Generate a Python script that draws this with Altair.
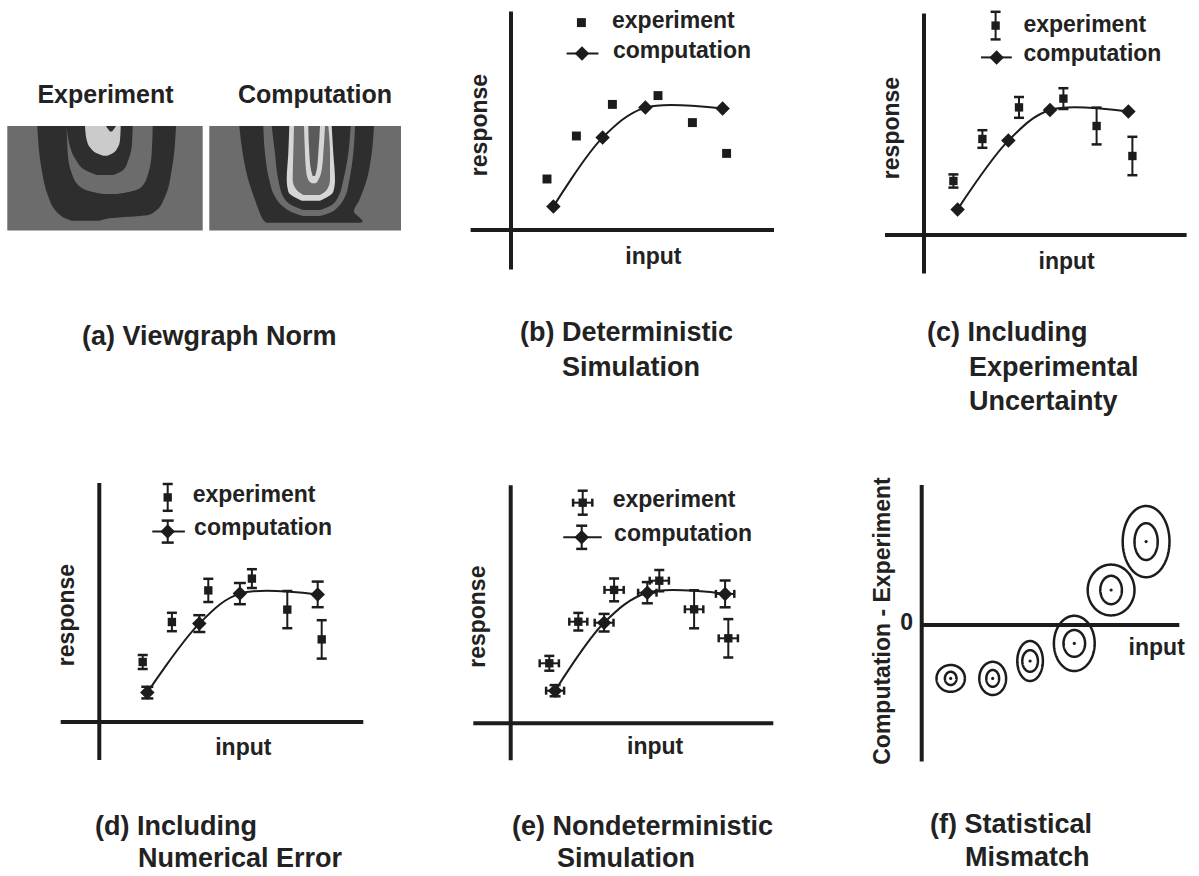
import altair as alt
import pandas as pd

# ---------------- values ----------------
# (b) Deterministic simulation
B_COMP_X = [2.12, 4.58, 6.72, 10.58]
B_COMP_Y = [1.17, 4.62, 6.12, 6.07]
B_EXP_X = [1.80, 3.27, 5.07, 7.35, 9.07, 10.78]
B_EXP_Y = [2.55, 4.70, 6.28, 6.72, 5.37, 3.83]
# (c) Including experimental uncertainty
C_COMP_X = [1.68, 4.22, 6.30, 10.22]
C_COMP_Y = [1.28, 4.72, 6.25, 6.17]
C_EXP_X = [1.47, 2.92, 4.75, 6.97, 8.63, 10.42]
C_EXP_Y = [2.70, 4.80, 6.38, 6.82, 5.45, 3.95]
C_EXP_ERR = [0.33, 0.44, 0.52, 0.52, 0.92, 0.96]
# (d) Including numerical error
D_COMP_X = [2.40, 5.00, 7.03, 10.92]
D_COMP_Y = [1.47, 4.92, 6.42, 6.38]
D_COMP_ERR = [0.29, 0.42, 0.53, 0.64]
D_EXP_X = [2.17, 3.63, 5.45, 7.63, 9.40, 11.12]
D_EXP_Y = [3.00, 5.00, 6.58, 7.17, 5.62, 4.13]
D_EXP_ERR = [0.35, 0.46, 0.58, 0.47, 0.93, 0.96]
# (e) Nondeterministic simulation
E_COMP_X = [2.22, 4.67, 6.83, 10.72]
E_COMP_Y = [1.63, 5.03, 6.53, 6.47]
E_COMP_YERR = [0.28, 0.44, 0.53, 0.67]
E_COMP_XERR = [0.45, 0.47, 0.46, 0.46]
E_EXP_X = [1.93, 3.38, 5.17, 7.43, 9.17, 10.88]
E_EXP_Y = [3.00, 5.08, 6.67, 7.13, 5.70, 4.25]
E_EXP_YERR = [0.37, 0.44, 0.57, 0.53, 0.95, 0.96]
E_EXP_XERR = [0.48, 0.45, 0.48, 0.48, 0.46, 0.48]
# (f) Statistical mismatch (computation - experiment)
F_X = [1.45, 3.55, 5.42, 7.63, 9.47, 11.22]
F_Y = [-2.67, -2.67, -1.80, -0.92, 1.75, 4.17]
F_OUT_RX = [0.71, 0.67, 0.64, 1.02, 1.17, 1.17]
F_OUT_RY = [0.67, 0.83, 1.00, 1.38, 1.27, 1.78]
F_IN_RX = [0.29, 0.32, 0.39, 0.54, 0.54, 0.58]
F_IN_RY = [0.33, 0.42, 0.54, 0.67, 0.71, 0.92]

# (a) viewgraph images: contour bands, rows of (y, left, right)
EXP_FRAME = [7.3, 202.7, 126.0, 230.5]
COMP_FRAME = [209.3, 401.0, 126.0, 230.5]
EXP_OUTER_Y = [126, 170, 196.7, 210, 215, 218.3, 220.7]
EXP_OUTER_L = [37.3, 41.7, 48.3, 55, 60, 65, 71.7]
EXP_OUTER_R = [176, 171.7, 165, 156.7, 148.3, 110, 100]
EXP_BAND_Y = [126, 153.3, 173.3, 186.7, 191.7, 194]
EXP_BAND_L = [66.7, 67.7, 71.7, 80, 91.7, 103.3]
EXP_BAND_R = [152.7, 151.7, 148.3, 141.7, 130, 116.7]
EXP_INNER_Y = [126, 146.7, 160, 170, 175]
EXP_INNER_L = [66.7, 70, 76, 85, 96.7]
EXP_INNER_R = [132.7, 131.7, 128.3, 123.3, 113.3]
EXP_LIGHT_Y = [126, 140, 148.3, 153.3, 155.7]
EXP_LIGHT_L = [85, 86.7, 90.7, 96.7, 103.3]
EXP_LIGHT_R = [120.7, 120, 117.3, 112.7, 107.3]
EXP_BLOB_Y = [126, 129, 131.5]
EXP_BLOB_L = [106, 108, 110]
EXP_BLOB_R = [116, 114, 112]

CMP_OUTER_Y = [126, 153.3, 180, 200, 211.7, 217.3, 221.7, 222.7]
CMP_OUTER_L = [239.3, 242.7, 248.3, 255, 259.3, 261.7, 265, 266.7]
CMP_OUTER_R = [374, 371.7, 366.7, 359.3, 354, 359.3, 362.7, 360]
CMP_BAND_Y = [126, 153.3, 180, 196.7, 206.7, 212.7, 216]
CMP_BAND_L = [263.3, 265, 269.3, 275, 283.3, 293.3, 303.3]
CMP_BAND_R = [355, 353.3, 349.3, 345, 338.3, 330, 320]
CMP_DARK_Y = [126, 153.3, 180, 196.7, 206, 210]
CMP_DARK_L = [271.7, 275, 278.3, 283.3, 293.3, 303.3]
CMP_DARK_R = [350.7, 348.3, 343.3, 338.3, 330, 320]
CMP_RING_Y = [126, 153.3, 180, 191.7, 198.3, 200.7]
CMP_RING_L = [289.3, 288.3, 286.7, 288.3, 296.7, 301.7]
CMP_RING_R = [331.7, 333.3, 335, 333.3, 325, 320]
CMP_GAP_Y = [126, 153.3, 180, 190, 195]
CMP_GAP_L = [294, 293.3, 292.7, 296.7, 303.3]
CMP_GAP_R = [328.3, 330, 330, 326.7, 320]
CMP_CORE_Y = [126, 153.3, 170, 180, 183.3]
CMP_CORE_L = [304, 305, 306, 308.3, 311.7]
CMP_CORE_R = [325, 323.3, 321.7, 318.3, 316]
CMP_CTR_Y = [126, 153.3, 170, 176]
CMP_CTR_L = [308.3, 309.3, 311, 312.7]
CMP_CTR_R = [320, 318.3, 316.7, 315]

# ---------------- layout / style ----------------
U = 20.0
COLS = [(0, 403), (403, 397), (800, 399)]
ROWS = [(0, 438), (438, 438)]
INK = "#1c1c1c"
TXT = "#222222"
FONT = "Liberation Sans, Arial, Helvetica, sans-serif"
DARK = "#2e2e2e"
GRAY = "#6c6c6c"
LIGHT = "#cbcbcb"
LIGHT2 = "#d6d6d6"


class Panel:
    def __init__(self, col, row, ox, oy, pixel=False):
        cx0, cw = COLS[col]
        ry0, rh = ROWS[row]
        self.w, self.h = cw, rh
        self.ox, self.oy = ox, oy
        if pixel:
            self.xs = alt.Scale(domain=[cx0, cx0 + cw], nice=False, zero=False)
            self.ys = alt.Scale(domain=[ry0 + rh, ry0], nice=False, zero=False)
        else:
            self.xs = alt.Scale(domain=[(cx0 - ox) / U, (cx0 + cw - ox) / U], nice=False, zero=False)
            self.ys = alt.Scale(domain=[(oy - ry0 - rh) / U, (oy - ry0) / U], nice=False, zero=False)

    def X(self, f):
        return alt.X(f, scale=self.xs, axis=None)

    def Y(self, f):
        return alt.Y(f, scale=self.ys, axis=None)

    def g(self, gx, gy):
        return ((gx - self.ox) / U, (self.oy - gy) / U)


def text_layer(p, rows, size, align="left", baseline="middle", angle=None):
    df = pd.DataFrame(rows, columns=["x", "y", "t"])
    kw = dict(align=align, baseline=baseline, fontSize=size, fontWeight="bold", font=FONT, color=TXT)
    if angle:
        kw["angle"] = angle
    return alt.Chart(df).mark_text(**kw).encode(x=p.X("x:Q"), y=p.Y("y:Q"), text="t:N")


def axis_lines(p, xext, yext):
    df = pd.DataFrame({"x": [xext[0], 0], "x2": [xext[1], 0], "y": [0, yext[0]], "y2": [0, yext[1]]})
    return alt.Chart(df).mark_rule(strokeWidth=4, color=INK).encode(
        x=p.X("x:Q"), x2="x2:Q", y=p.Y("y:Q"), y2="y2:Q")


def curve(p, xv, yv):
    df = pd.DataFrame({"x": xv, "y": yv})
    return alt.Chart(df).mark_line(interpolate="catmull-rom", color=INK, strokeWidth=2).encode(
        x=p.X("x:Q"), y=p.Y("y:Q"), order="x:Q")


def seg(p, x, x2, y, y2, w=2):
    df = pd.DataFrame({"x": [x], "x2": [x2], "y": [y], "y2": [y2]})
    return alt.Chart(df).mark_rule(strokeWidth=w, color=INK).encode(
        x=p.X("x:Q"), x2="x2:Q", y=p.Y("y:Q"), y2="y2:Q")


def diamonds(p, xv, yv, size=210):
    df = pd.DataFrame({"x": xv, "y": yv})
    return alt.Chart(df).mark_point(shape="diamond", filled=True, size=size, color=INK, opacity=1).encode(
        x=p.X("x:Q"), y=p.Y("y:Q"))


def squares(p, xv, yv, size=80):
    df = pd.DataFrame({"x": xv, "y": yv})
    return alt.Chart(df).mark_square(size=size, color=INK, opacity=1).encode(x=p.X("x:Q"), y=p.Y("y:Q"))


def yerr(p, xv, yv, ev, cap=10):
    df = pd.DataFrame({"x": xv, "y": yv, "e": ev})
    base = alt.Chart(df).transform_calculate(lo="datum.y - datum.e", hi="datum.y + datum.e")
    rule = base.mark_rule(color=INK, strokeWidth=2).encode(x=p.X("x:Q"), y=p.Y("lo:Q"), y2="hi:Q")
    top = base.mark_tick(orient="horizontal", size=cap, thickness=2.5, color=INK, opacity=1).encode(
        x=p.X("x:Q"), y=p.Y("hi:Q"))
    bot = base.mark_tick(orient="horizontal", size=cap, thickness=2.5, color=INK, opacity=1).encode(
        x=p.X("x:Q"), y=p.Y("lo:Q"))
    return [rule, top, bot]


def xerr(p, xv, yv, ev, cap=8):
    df = pd.DataFrame({"x": xv, "y": yv, "e": ev})
    base = alt.Chart(df).transform_calculate(lo="datum.x - datum.e", hi="datum.x + datum.e")
    rule = base.mark_rule(color=INK, strokeWidth=2).encode(x=p.X("lo:Q"), x2="hi:Q", y=p.Y("y:Q"))
    left = base.mark_tick(orient="vertical", size=cap, thickness=2.5, color=INK, opacity=1).encode(
        x=p.X("lo:Q"), y=p.Y("y:Q"))
    right = base.mark_tick(orient="vertical", size=cap, thickness=2.5, color=INK, opacity=1).encode(
        x=p.X("hi:Q"), y=p.Y("y:Q"))
    return [rule, left, right]


def titles(p, lines, size=27):
    rows = []
    for gx, gy, t in lines:
        x, y = p.g(gx, gy)
        rows.append((x, y, t))
    return text_layer(p, rows, size, align="left", baseline="alphabetic")


# ---------------- panel (a) ----------------
pa = Panel(0, 0, 0, 0, pixel=True)


def band(p, ys, ls, rs, color):
    df = pd.DataFrame({"y": ys, "L": ls, "R": rs})
    return alt.Chart(df).mark_area(orient="horizontal", interpolate="monotone", color=color, opacity=1).encode(
        y=p.Y("y:Q"), x=p.X("L:Q"), x2="R:Q")


frames = pd.DataFrame([EXP_FRAME, COMP_FRAME], columns=["x", "x2", "y", "y2"])
a_layers = [
    alt.Chart(frames).mark_rect(color=GRAY).encode(x=pa.X("x:Q"), x2="x2:Q", y=pa.Y("y:Q"), y2="y2:Q"),
    band(pa, EXP_OUTER_Y, EXP_OUTER_L, EXP_OUTER_R, DARK),
    band(pa, EXP_BAND_Y, EXP_BAND_L, EXP_BAND_R, GRAY),
    band(pa, EXP_INNER_Y, EXP_INNER_L, EXP_INNER_R, DARK),
    band(pa, EXP_LIGHT_Y, EXP_LIGHT_L, EXP_LIGHT_R, LIGHT),
    band(pa, EXP_BLOB_Y, EXP_BLOB_L, EXP_BLOB_R, DARK),
    band(pa, CMP_OUTER_Y, CMP_OUTER_L, CMP_OUTER_R, DARK),
    band(pa, CMP_BAND_Y, CMP_BAND_L, CMP_BAND_R, GRAY),
    band(pa, CMP_DARK_Y, CMP_DARK_L, CMP_DARK_R, DARK),
    band(pa, CMP_RING_Y, CMP_RING_L, CMP_RING_R, LIGHT2),
    band(pa, CMP_GAP_Y, CMP_GAP_L, CMP_GAP_R, GRAY),
    band(pa, CMP_CORE_Y, CMP_CORE_L, CMP_CORE_R, LIGHT2),
    band(pa, CMP_CTR_Y, CMP_CTR_L, CMP_CTR_R, "#5a5a5a"),
    text_layer(pa, [(105.5, 103, "Experiment"), (315, 103, "Computation")], 25, align="center", baseline="alphabetic"),
    text_layer(pa, [(82, 345, "(a) Viewgraph Norm")], 27, align="left", baseline="alphabetic"),
]
chart_a = alt.layer(*a_layers).properties(width=pa.w, height=pa.h)

# ---------------- panel (b) ----------------
pb = Panel(1, 0, 511, 230)
b_layers = [
    axis_lines(pb, (-2.02, 13.15), (-1.97, 10.92)),
    curve(pb, B_COMP_X, B_COMP_Y),
    diamonds(pb, B_COMP_X, B_COMP_Y),
    squares(pb, B_EXP_X, B_EXP_Y),
    squares(pb, [3.52], [10.37]),
    seg(pb, 2.78, 4.37, 8.83, 8.83),
    diamonds(pb, [3.55], [8.83]),
    text_layer(pb, [(5.05, 10.45, "experiment"), (5.1, 8.95, "computation")], 23),
    text_layer(pb, [(7.12, -1.33, "input")], 23, align="center"),
    text_layer(pb, [(-1.55, 5.25, "response")], 23, align="center", angle=270),
    titles(pb, [(520, 341, "(b) Deterministic"), (562, 376, "Simulation")]),
]
chart_b = alt.layer(*b_layers).properties(width=pb.w, height=pb.h)

# ---------------- panel (c) ----------------
pc = Panel(2, 0, 924, 235)
c_layers = [
    axis_lines(pc, (-1.95, 13.13), (-1.92, 11.08)),
    curve(pc, C_COMP_X, C_COMP_Y),
    diamonds(pc, C_COMP_X, C_COMP_Y),
    *yerr(pc, C_EXP_X, C_EXP_Y, C_EXP_ERR),
    squares(pc, C_EXP_X, C_EXP_Y, 70),
    *yerr(pc, [3.58], [10.47], [0.69]),
    squares(pc, [3.58], [10.47], 70),
    seg(pc, 2.85, 4.39, 8.88, 8.88),
    diamonds(pc, [3.63], [8.88]),
    text_layer(pc, [(4.97, 10.5, "experiment"), (4.97, 9.05, "computation")], 23),
    text_layer(pc, [(7.13, -1.33, "input")], 23, align="center"),
    text_layer(pc, [(-1.6, 5.35, "response")], 23, align="center", angle=270),
    titles(pc, [(927, 341, "(c) Including"), (969, 376, "Experimental"), (969, 410, "Uncertainty")]),
]
chart_c = alt.layer(*c_layers).properties(width=pc.w, height=pc.h)

# ---------------- panel (d) ----------------
pd_ = Panel(0, 1, 99.3, 722)
d_layers = [
    axis_lines(pd_, (-1.93, 13.2), (-1.9, 11.95)),
    curve(pd_, D_COMP_X, D_COMP_Y),
    *yerr(pd_, D_COMP_X, D_COMP_Y, D_COMP_ERR, cap=12),
    diamonds(pd_, D_COMP_X, D_COMP_Y),
    *yerr(pd_, D_EXP_X, D_EXP_Y, D_EXP_ERR),
    squares(pd_, D_EXP_X, D_EXP_Y, 70),
    *yerr(pd_, [3.42], [11.23], [0.67]),
    squares(pd_, [3.42], [11.23], 70),
    seg(pd_, 2.65, 4.28, 9.52, 9.52),
    *yerr(pd_, [3.42], [9.52], [0.55], cap=12),
    diamonds(pd_, [3.42], [9.52]),
    text_layer(pd_, [(4.67, 11.35, "experiment"), (4.74, 9.68, "computation")], 23),
    text_layer(pd_, [(7.2, -1.32, "input")], 23, align="center"),
    text_layer(pd_, [(-1.63, 5.35, "response")], 23, align="center", angle=270),
    titles(pd_, [(95, 835, "(d) Including"), (138, 867, "Numerical Error")]),
]
chart_d = alt.layer(*d_layers).properties(width=pd_.w, height=pd_.h)

# ---------------- panel (e) ----------------
pe = Panel(1, 1, 510.7, 723.3)
e_layers = [
    axis_lines(pe, (-1.87, 13.13), (-1.85, 11.9)),
    curve(pe, E_COMP_X, E_COMP_Y),
    *yerr(pe, E_COMP_X, E_COMP_Y, E_COMP_YERR, cap=11),
    *xerr(pe, E_COMP_X, E_COMP_Y, E_COMP_XERR),
    diamonds(pe, E_COMP_X, E_COMP_Y),
    *yerr(pe, E_EXP_X, E_EXP_Y, E_EXP_YERR),
    *xerr(pe, E_EXP_X, E_EXP_Y, E_EXP_XERR),
    squares(pe, E_EXP_X, E_EXP_Y, 70),
    *yerr(pe, [3.6], [11.03], [0.6]),
    *xerr(pe, [3.6], [11.03], [0.48]),
    squares(pe, [3.6], [11.03], 70),
    seg(pe, 2.63, 4.55, 9.3, 9.3),
    *yerr(pe, [3.55], [9.3], [0.58], cap=11),
    diamonds(pe, [3.55], [9.3]),
    text_layer(pe, [(5.1, 11.17, "experiment"), (5.17, 9.47, "computation")], 23),
    text_layer(pe, [(7.22, -1.2, "input")], 23, align="center"),
    text_layer(pe, [(-1.62, 5.33, "response")], 23, align="center", angle=270),
    titles(pe, [(512, 835, "(e) Nondeterministic"), (557, 867, "Simulation")]),
]
chart_e = alt.layer(*e_layers).properties(width=pe.w, height=pe.h)

# ---------------- panel (f) ----------------
pf = Panel(2, 1, 921.7, 625)
ell = pd.DataFrame({
    "id": list(range(12)),
    "cx": F_X + F_X,
    "cy": F_Y + F_Y,
    "rx": F_OUT_RX + F_IN_RX,
    "ry": F_OUT_RY + F_IN_RY,
})
ellipses = (
    alt.Chart(ell)
    .transform_calculate(t="sequence(0, 6.36, 0.04)")
    .transform_flatten(["t"])
    .transform_calculate(ex="datum.cx + datum.rx * cos(datum.t)", ey="datum.cy + datum.ry * sin(datum.t)")
    .mark_line(color=INK, strokeWidth=2.5)
    .encode(x=pf.X("ex:Q"), y=pf.Y("ey:Q"), detail="id:N", order="t:Q")
)
f_layers = [
    axis_lines(pf, (0, 12.88), (-6.83, 7.0)),
    ellipses,
    alt.Chart(pd.DataFrame({"x": F_X, "y": F_Y})).mark_point(filled=True, size=10, color=INK, opacity=1).encode(
        x=pf.X("x:Q"), y=pf.Y("y:Q")),
    text_layer(pf, [(-0.75, 0.08, "0"), (11.75, -1.17, "input")], 23, align="center"),
    text_layer(pf, [(-1.95, 0.2, "Computation - Experiment")], 23, align="center", angle=270),
    titles(pf, [(930, 833, "(f) Statistical"), (965, 866, "Mismatch")]),
]
chart_f = alt.layer(*f_layers).properties(width=pf.w, height=pf.h)

chart = (
    alt.concat(chart_a, chart_b, chart_c, chart_d, chart_e, chart_f, columns=3, spacing=0, bounds="flush")
    .properties(padding=0, background="white")
    .configure_view(stroke=None)
)
chart.save("out.html", embed_options={"renderer": "svg", "actions": False})
